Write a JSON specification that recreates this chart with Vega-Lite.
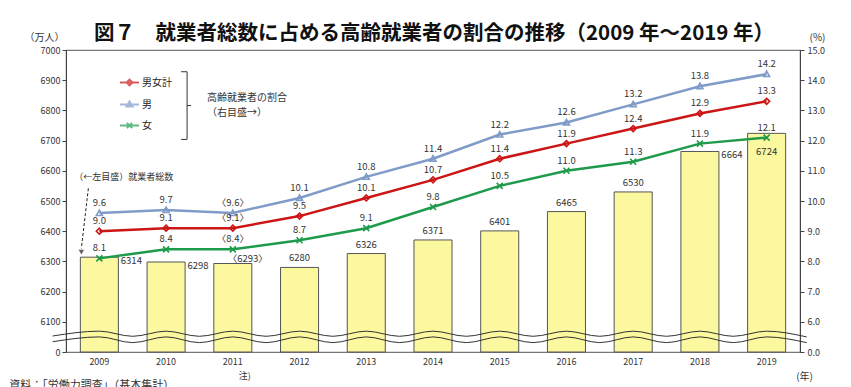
{
  "$schema": "https://vega.github.io/schema/vega-lite/v6.json",
  "width": 734,
  "height": 302,
  "autosize": "none",
  "padding": {"left": 66, "top": 50, "right": 51, "bottom": 35},
  "background": "white",
  "config": {
    "view": {"stroke": "#777", "strokeWidth": 1.2},
    "font": "Noto Sans CJK JP",
    "text": {"font": "Noto Sans CJK JP"},
    "axis": {"labelOverlap": false}
  },
  "title": {
    "text": "図７　就業者総数に占める高齢就業者の割合の推移（2009 年～2019 年）",
    "anchor": "start",
    "frame": "group",
    "dx": 28,
    "offset": -12,
    "fontSize": 20.5,
    "fontWeight": "bold",
    "font": "Noto Sans CJK JP",
    "color": "#111"
  },
  "datasets": {
    "bars": [
      {"year": 2009, "total": 6314, "lab": "6314"},
      {"year": 2010, "total": 6298, "lab": "6298"},
      {"year": 2011, "total": 6293, "lab": "〈6293〉"},
      {"year": 2012, "total": 6280, "lab": "6280"},
      {"year": 2013, "total": 6326, "lab": "6326"},
      {"year": 2014, "total": 6371, "lab": "6371"},
      {"year": 2015, "total": 6401, "lab": "6401"},
      {"year": 2016, "total": 6465, "lab": "6465"},
      {"year": 2017, "total": 6530, "lab": "6530"},
      {"year": 2018, "total": 6664, "lab": "6664"},
      {"year": 2019, "total": 6724, "lab": "6724"}
    ],
    "rates": [
      {"year": 2009, "series": "男女計", "value": 9.0, "lab": "9.0"},
      {"year": 2010, "series": "男女計", "value": 9.1, "lab": "9.1"},
      {"year": 2011, "series": "男女計", "value": 9.1, "lab": "〈9.1〉"},
      {"year": 2012, "series": "男女計", "value": 9.5, "lab": "9.5"},
      {"year": 2013, "series": "男女計", "value": 10.1, "lab": "10.1"},
      {"year": 2014, "series": "男女計", "value": 10.7, "lab": "10.7"},
      {"year": 2015, "series": "男女計", "value": 11.4, "lab": "11.4"},
      {"year": 2016, "series": "男女計", "value": 11.9, "lab": "11.9"},
      {"year": 2017, "series": "男女計", "value": 12.4, "lab": "12.4"},
      {"year": 2018, "series": "男女計", "value": 12.9, "lab": "12.9"},
      {"year": 2019, "series": "男女計", "value": 13.3, "lab": "13.3"},
      {"year": 2009, "series": "男", "value": 9.6, "lab": "9.6"},
      {"year": 2010, "series": "男", "value": 9.7, "lab": "9.7"},
      {"year": 2011, "series": "男", "value": 9.6, "lab": "〈9.6〉"},
      {"year": 2012, "series": "男", "value": 10.1, "lab": "10.1"},
      {"year": 2013, "series": "男", "value": 10.8, "lab": "10.8"},
      {"year": 2014, "series": "男", "value": 11.4, "lab": "11.4"},
      {"year": 2015, "series": "男", "value": 12.2, "lab": "12.2"},
      {"year": 2016, "series": "男", "value": 12.6, "lab": "12.6"},
      {"year": 2017, "series": "男", "value": 13.2, "lab": "13.2"},
      {"year": 2018, "series": "男", "value": 13.8, "lab": "13.8"},
      {"year": 2019, "series": "男", "value": 14.2, "lab": "14.2"},
      {"year": 2009, "series": "女", "value": 8.1, "lab": "8.1"},
      {"year": 2010, "series": "女", "value": 8.4, "lab": "8.4"},
      {"year": 2011, "series": "女", "value": 8.4, "lab": "〈8.4〉"},
      {"year": 2012, "series": "女", "value": 8.7, "lab": "8.7"},
      {"year": 2013, "series": "女", "value": 9.1, "lab": "9.1"},
      {"year": 2014, "series": "女", "value": 9.8, "lab": "9.8"},
      {"year": 2015, "series": "女", "value": 10.5, "lab": "10.5"},
      {"year": 2016, "series": "女", "value": 11.0, "lab": "11.0"},
      {"year": 2017, "series": "女", "value": 11.3, "lab": "11.3"},
      {"year": 2018, "series": "女", "value": 11.9, "lab": "11.9"},
      {"year": 2019, "series": "女", "value": 12.1, "lab": "12.1"}
    ],
    "wave": [
      {"line": "u", "t": -0.2, "v": 6053}, {"line": "u", "t": 0.5, "v": 6069}, {"line": "u", "t": 1, "v": 6052},
      {"line": "u", "t": 1.5, "v": 6069}, {"line": "u", "t": 2, "v": 6052}, {"line": "u", "t": 2.5, "v": 6069},
      {"line": "u", "t": 3, "v": 6052}, {"line": "u", "t": 3.5, "v": 6069}, {"line": "u", "t": 4, "v": 6052},
      {"line": "u", "t": 4.5, "v": 6069}, {"line": "u", "t": 5, "v": 6052}, {"line": "u", "t": 5.5, "v": 6069},
      {"line": "u", "t": 6, "v": 6052}, {"line": "u", "t": 6.5, "v": 6069}, {"line": "u", "t": 7, "v": 6052},
      {"line": "u", "t": 7.5, "v": 6069}, {"line": "u", "t": 8, "v": 6052}, {"line": "u", "t": 8.5, "v": 6069},
      {"line": "u", "t": 9, "v": 6052}, {"line": "u", "t": 9.5, "v": 6069}, {"line": "u", "t": 10, "v": 6052},
      {"line": "u", "t": 10.5, "v": 6069}, {"line": "u", "t": 11.1, "v": 6050},
      {"line": "l", "t": -0.2, "v": 6034}, {"line": "l", "t": 0.5, "v": 6050}, {"line": "l", "t": 1, "v": 6031},
      {"line": "l", "t": 1.5, "v": 6050}, {"line": "l", "t": 2, "v": 6031}, {"line": "l", "t": 2.5, "v": 6050},
      {"line": "l", "t": 3, "v": 6031}, {"line": "l", "t": 3.5, "v": 6050}, {"line": "l", "t": 4, "v": 6031},
      {"line": "l", "t": 4.5, "v": 6050}, {"line": "l", "t": 5, "v": 6031}, {"line": "l", "t": 5.5, "v": 6050},
      {"line": "l", "t": 6, "v": 6031}, {"line": "l", "t": 6.5, "v": 6050}, {"line": "l", "t": 7, "v": 6031},
      {"line": "l", "t": 7.5, "v": 6050}, {"line": "l", "t": 8, "v": 6031}, {"line": "l", "t": 8.5, "v": 6050},
      {"line": "l", "t": 9, "v": 6031}, {"line": "l", "t": 9.5, "v": 6050}, {"line": "l", "t": 10, "v": 6031},
      {"line": "l", "t": 10.5, "v": 6050}, {"line": "l", "t": 11.1, "v": 6031}
    ]
  },
  "layer": [
    {
      "data": {"name": "bars"},
      "encoding": {
        "x": {
          "field": "year",
          "type": "ordinal",
          "scale": {"paddingInner": 0.43, "paddingOuter": 0.215},
          "axis": {
            "title": "(年)",
            "labelAngle": 0,
            "ticks": false,
            "domain": false,
            "labelOverlap": false,
            "labelFontSize": 9,
            "labelColor": "#333",
            "labelPadding": 5,
            "titleX": 738,
            "titleY": 24,
            "titleAlign": "center",
            "titleBaseline": "middle",
            "titleFontSize": 10,
            "titleFontWeight": "normal",
            "titleColor": "#333"
          }
        },
        "y": {
          "field": "total",
          "type": "quantitative",
          "scale": {"domain": [6000, 7000], "zero": false, "nice": false},
          "axis": {
            "orient": "left",
            "values": [6000, 6100, 6200, 6300, 6400, 6500, 6600, 6700, 6800, 6900, 7000],
            "format": "d",
            "labelExpr": "datum.value == 6000 ? '0' : datum.label",
            "labelOverlap": false,
            "grid": false,
            "domainColor": "#444",
            "tickColor": "#444",
            "tickSize": 4,
            "labelFontSize": 9,
            "labelColor": "#333",
            "labelPadding": 2,
            "title": "（万人）",
            "titleAngle": 0,
            "titleAlign": "center",
            "titleBaseline": "middle",
            "titleX": -22,
            "titleY": -13,
            "titleFontSize": 10,
            "titleFontWeight": "normal",
            "titleColor": "#333"
          }
        }
      },
      "layer": [
        {
          "mark": {"type": "bar", "fill": "#FBF8A0", "stroke": "#555", "strokeWidth": 1},
          "encoding": {"y2": {"datum": 6000}}
        },
        {
          "transform": [{"filter": "datum.year == 2009 || datum.year == 2010 || datum.year == 2018"}],
          "mark": {"type": "text", "dx": 32, "dy": 4, "baseline": "middle", "fontSize": 9.5, "color": "#333"},
          "encoding": {"text": {"field": "lab"}}
        },
        {
          "transform": [{"filter": "datum.year == 2011"}],
          "mark": {"type": "text", "dx": 15, "dy": -5, "baseline": "middle", "fontSize": 9.5, "color": "#333"},
          "encoding": {"text": {"field": "lab"}}
        },
        {
          "transform": [{"filter": "datum.year >= 2012 && datum.year <= 2017"}],
          "mark": {"type": "text", "dy": -9, "baseline": "middle", "fontSize": 9.5, "color": "#333"},
          "encoding": {"text": {"field": "lab"}}
        },
        {
          "transform": [{"filter": "datum.year == 2019"}],
          "mark": {"type": "text", "dy": 19, "baseline": "middle", "fontSize": 9.5, "color": "#333"},
          "encoding": {"text": {"field": "lab"}}
        }
      ]
    },
    {
      "data": {"name": "rates"},
      "encoding": {
        "x": {
          "field": "year",
          "type": "ordinal",
          "scale": {"paddingInner": 0.43, "paddingOuter": 0.215},
          "axis": null
        },
        "y": {
          "field": "value",
          "type": "quantitative",
          "scale": {"domain": [5, 15], "zero": false, "nice": false},
          "axis": {
            "orient": "right",
            "values": [5, 6, 7, 8, 9, 10, 11, 12, 13, 14, 15],
            "labelExpr": "datum.value == 5 ? '0.0' : format(datum.value, '.1f')",
            "labelOverlap": false,
            "grid": false,
            "domainColor": "#444",
            "tickColor": "#444",
            "tickSize": 4,
            "labelFontSize": 9,
            "labelColor": "#333",
            "labelPadding": 3,
            "title": "(%)",
            "titleAngle": 0,
            "titleAlign": "center",
            "titleBaseline": "middle",
            "titleX": 17,
            "titleY": -13,
            "titleFontSize": 10,
            "titleFontWeight": "normal",
            "titleColor": "#333"
          }
        },
        "color": {
          "field": "series",
          "type": "nominal",
          "scale": {"domain": ["男女計", "男", "女"], "range": ["#CC1515", "#7F9BC8", "#1E9B4A"]},
          "legend": null
        }
      },
      "layer": [
        {"mark": {"type": "line", "strokeWidth": 2.5}},
        {
          "mark": {"type": "point", "filled": false, "strokeWidth": 1.6, "opacity": 1},
          "encoding": {
            "shape": {
              "field": "series",
              "type": "nominal",
              "scale": {"domain": ["男女計", "男", "女"], "range": ["M0,-1L1,0L0,1L-1,0Z", "M0,-1L1,0.8L-1,0.8Z", "M-1,-1L1,1M-1,1L1,-1"]},
              "legend": null
            },
            "size": {"value": 36}
          }
        },
        {
          "mark": {"type": "text", "baseline": "middle", "dy": -10, "fontSize": 9.5},
          "encoding": {"text": {"field": "lab"}, "color": {"value": "#333"}}
        }
      ]
    },
    {
      "data": {"name": "wave"},
      "mark": {"type": "line", "interpolate": "monotone", "stroke": "#333", "strokeWidth": 1},
      "encoding": {
        "x": {"field": "t", "type": "quantitative", "scale": {"domain": [0, 11], "nice": false, "zero": false}, "axis": null},
        "y": {"field": "v", "type": "quantitative", "scale": {"domain": [6000, 7000], "nice": false, "zero": false}, "axis": null},
        "detail": {"field": "line", "type": "nominal"}
      }
    },
    {
      "layer": [
        {
          "data": {"values": [{"t": "（←左目盛）就業者総数"}]},
          "mark": {"type": "text", "align": "left", "baseline": "middle", "dx": -25, "fontSize": 9, "color": "#333"},
          "encoding": {
            "x": {"datum": 2009, "type": "ordinal", "scale": {"domain": [2009, 2010, 2011, 2012, 2013, 2014, 2015, 2016, 2017, 2018, 2019], "paddingInner": 0.43, "paddingOuter": 0.215}, "axis": null},
            "y": {"datum": 6579, "type": "quantitative", "scale": {"domain": [6000, 7000], "zero": false, "nice": false}, "axis": null},
            "text": {"field": "t"}
          }
        },
        {
          "data": {"values": [{}]},
          "mark": {"type": "rule", "strokeDash": [3, 2], "color": "#222", "strokeWidth": 1, "xOffset": -11, "x2Offset": -18},
          "encoding": {
            "x": {"datum": 2009, "type": "ordinal", "scale": {"domain": [2009, 2010, 2011, 2012, 2013, 2014, 2015, 2016, 2017, 2018, 2019], "paddingInner": 0.43, "paddingOuter": 0.215}, "axis": null},
            "x2": {"datum": 2009},
            "y": {"datum": 6542, "type": "quantitative", "scale": {"domain": [6000, 7000], "zero": false, "nice": false}, "axis": null},
            "y2": {"datum": 6343}
          }
        },
        {
          "data": {"values": [{}]},
          "mark": {"type": "point", "shape": "triangle-down", "filled": true, "color": "#222", "size": 30, "xOffset": -18},
          "encoding": {
            "x": {"datum": 2009, "type": "ordinal", "scale": {"domain": [2009, 2010, 2011, 2012, 2013, 2014, 2015, 2016, 2017, 2018, 2019], "paddingInner": 0.43, "paddingOuter": 0.215}, "axis": null},
            "y": {"datum": 6331, "type": "quantitative", "scale": {"domain": [6000, 7000], "zero": false, "nice": false}, "axis": null}
          }
        },
        {
          "data": {"values": [{"t": "高齢就業者の割合"}]},
          "mark": {"type": "text", "align": "left", "baseline": "middle", "dx": 41, "fontSize": 10, "color": "#333"},
          "encoding": {
            "x": {"datum": 2010, "type": "ordinal", "scale": {"domain": [2009, 2010, 2011, 2012, 2013, 2014, 2015, 2016, 2017, 2018, 2019], "paddingInner": 0.43, "paddingOuter": 0.215}, "axis": null},
            "y": {"datum": 6842, "type": "quantitative", "scale": {"domain": [6000, 7000], "zero": false, "nice": false}, "axis": null},
            "text": {"field": "t"}
          }
        },
        {
          "data": {"values": [{"t": "（右目盛→）"}]},
          "mark": {"type": "text", "align": "left", "baseline": "middle", "dx": 41, "fontSize": 10, "color": "#333"},
          "encoding": {
            "x": {"datum": 2010, "type": "ordinal", "scale": {"domain": [2009, 2010, 2011, 2012, 2013, 2014, 2015, 2016, 2017, 2018, 2019], "paddingInner": 0.43, "paddingOuter": 0.215}, "axis": null},
            "y": {"datum": 6793, "type": "quantitative", "scale": {"domain": [6000, 7000], "zero": false, "nice": false}, "axis": null},
            "text": {"field": "t"}
          }
        },
        {
          "data": {"values": [{}]},
          "mark": {"type": "rule", "color": "#333", "strokeWidth": 1, "xOffset": 21},
          "encoding": {
            "x": {"datum": 2010, "type": "ordinal", "scale": {"domain": [2009, 2010, 2011, 2012, 2013, 2014, 2015, 2016, 2017, 2018, 2019], "paddingInner": 0.43, "paddingOuter": 0.215}, "axis": null},
            "y": {"datum": 6928, "type": "quantitative", "scale": {"domain": [6000, 7000], "zero": false, "nice": false}, "axis": null},
            "y2": {"datum": 6704}
          }
        },
        {
          "data": {"values": [{}]},
          "mark": {"type": "rule", "color": "#333", "strokeWidth": 1, "xOffset": 15, "x2Offset": 21},
          "encoding": {
            "x": {"datum": 2010, "type": "ordinal", "scale": {"domain": [2009, 2010, 2011, 2012, 2013, 2014, 2015, 2016, 2017, 2018, 2019], "paddingInner": 0.43, "paddingOuter": 0.215}, "axis": null},
            "x2": {"datum": 2010},
            "y": {"datum": 6928, "type": "quantitative", "scale": {"domain": [6000, 7000], "zero": false, "nice": false}, "axis": null}
          }
        },
        {
          "data": {"values": [{}]},
          "mark": {"type": "rule", "color": "#333", "strokeWidth": 1, "xOffset": 15, "x2Offset": 21},
          "encoding": {
            "x": {"datum": 2010, "type": "ordinal", "scale": {"domain": [2009, 2010, 2011, 2012, 2013, 2014, 2015, 2016, 2017, 2018, 2019], "paddingInner": 0.43, "paddingOuter": 0.215}, "axis": null},
            "x2": {"datum": 2010},
            "y": {"datum": 6704, "type": "quantitative", "scale": {"domain": [6000, 7000], "zero": false, "nice": false}, "axis": null}
          }
        },
        {
          "data": {"values": [{}]},
          "mark": {"type": "rule", "color": "#333", "strokeWidth": 1, "xOffset": 21, "x2Offset": 25},
          "encoding": {
            "x": {"datum": 2010, "type": "ordinal", "scale": {"domain": [2009, 2010, 2011, 2012, 2013, 2014, 2015, 2016, 2017, 2018, 2019], "paddingInner": 0.43, "paddingOuter": 0.215}, "axis": null},
            "x2": {"datum": 2010},
            "y": {"datum": 6816, "type": "quantitative", "scale": {"domain": [6000, 7000], "zero": false, "nice": false}, "axis": null}
          }
        },
        {
          "data": {"values": [{"t": "注)"}]},
          "mark": {"type": "text", "baseline": "middle", "dx": 12, "fontSize": 9, "color": "#333"},
          "encoding": {
            "x": {"datum": 2011, "type": "ordinal", "scale": {"domain": [2009, 2010, 2011, 2012, 2013, 2014, 2015, 2016, 2017, 2018, 2019], "paddingInner": 0.43, "paddingOuter": 0.215}, "axis": null},
            "y": {"datum": 5921, "type": "quantitative", "scale": {"domain": [6000, 7000], "zero": false, "nice": false}, "axis": null},
            "text": {"field": "t"}
          }
        },
        {
          "data": {"values": [{"t": "資料：「労働力調査」（基本集計）"}]},
          "mark": {"type": "text", "align": "left", "baseline": "middle", "dx": -90, "fontSize": 11, "color": "#333"},
          "encoding": {
            "x": {"datum": 2009, "type": "ordinal", "scale": {"domain": [2009, 2010, 2011, 2012, 2013, 2014, 2015, 2016, 2017, 2018, 2019], "paddingInner": 0.43, "paddingOuter": 0.215}, "axis": null},
            "y": {"datum": 5888, "type": "quantitative", "scale": {"domain": [6000, 7000], "zero": false, "nice": false}, "axis": null},
            "text": {"field": "t"}
          }
        }
      ]
    },
    {
      "data": {"name": "rates"},
      "transform": [{"filter": "datum.value < 0"}],
      "mark": {"type": "point", "filled": false, "strokeWidth": 2},
      "encoding": {
        "color": {
          "field": "series",
          "type": "nominal",
          "scale": {"domain": ["男女計", "男", "女"], "range": ["#CC1515", "#7F9BC8", "#1E9B4A"]},
          "legend": {
            "title": null,
            "orient": "none",
            "legendX": 53,
            "legendY": 22,
            "padding": 0,
            "symbolSize": 361,
            "symbolStrokeWidth": 2,
            "labelFontSize": 10,
            "labelColor": "#222",
            "labelOffset": 2,
            "rowPadding": 4
          }
        },
        "shape": {
          "field": "series",
          "type": "nominal",
          "scale": {"domain": ["男女計", "男", "女"], "range": ["M-1,0L1,0M0,-0.3L0.3,0L0,0.3L-0.3,0Z", "M-1,0L1,0M0,-0.32L0.32,0.2L-0.32,0.2Z", "M-1,0L1,0M-0.28,-0.28L0.28,0.28M-0.28,0.28L0.28,-0.28"]},
          "legend": {
            "title": null,
            "orient": "none",
            "legendX": 53,
            "legendY": 22,
            "padding": 0,
            "symbolSize": 361,
            "symbolStrokeWidth": 2,
            "labelFontSize": 10,
            "labelColor": "#222",
            "labelOffset": 2,
            "rowPadding": 4
          }
        }
      }
    }
  ],
  "resolve": {"scale": {"x": "independent", "y": "independent", "color": "independent", "shape": "independent"}}
}
